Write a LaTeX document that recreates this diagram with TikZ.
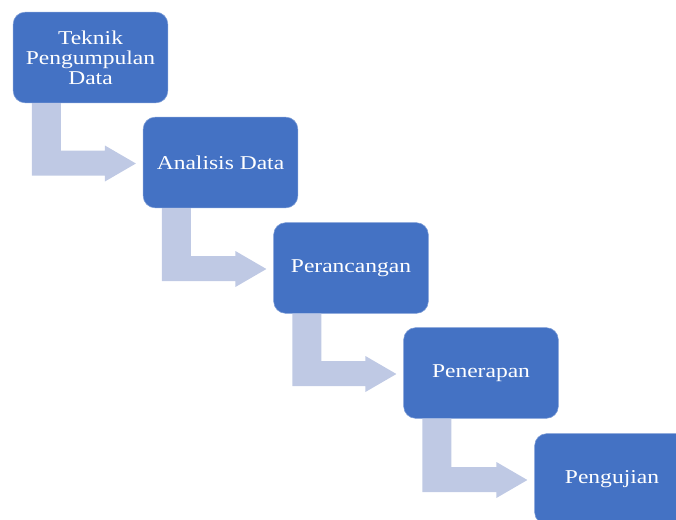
\documentclass[tikz,border=0pt]{standalone}
\usepackage{fontspec}
\setmainfont[FakeStretch=1.2]{Liberation Serif}
\usepackage{tikz}
\usetikzlibrary{calc}
\definecolor{tahapblue}{RGB}{68, 114, 196}
\definecolor{panahblue}{RGB}{191, 201, 228}

\tikzset{
    kotak/.style={fill=tahapblue, draw=tahapblue!70!white, line width=0.4pt, rounded corners=9pt,
        minimum width=116pt, minimum height=68pt, text=white, align=center,
        font=\fontsize{14.7pt}{15pt}\selectfont},
    panah/.style={fill=panahblue}
}

\begin{document}
\begin{tikzpicture}[x=0.75pt, y=-0.75pt]
            \useasboundingbox (0,0) rectangle (676,519);
            \clip (0,0) rectangle (676,519);

            % Teknik Pengumpulan Data
            \node[kotak] (teknik) at (90.5,57.5) {Teknik\\Pengumpulan\\Data};

            % Analisis Data
            \node[kotak] (analisis) at (220.5,162.5) {Analisis Data};

            % Perancangan
            \node[kotak] (perancangan) at (351,268) {Perancangan};

            % Penerapan
            \node[kotak] (penerapan) at (481,373) {Penerapan};

            % Pengujian
            \node[kotak] (pengujian) at (612,479) {Pengujian};

            % Panah
            \fill[panah] ($(teknik.south west)+(19,0)$) |- ($(analisis.west)+(-38,13)$) -- ++(0,6) -- ($(analisis.west)+(-7,1)$) -- ($(analisis.west)+(-38,-17)$) -- ++(0,5) -| ($(teknik.south west)+(48,0)$) -- cycle;
            \fill[panah] ($(analisis.south west)+(19,0)$) |- ($(perancangan.west)+(-38,13)$) -- ++(0,6) -- ($(perancangan.west)+(-7,1)$) -- ($(perancangan.west)+(-38,-17)$) -- ++(0,5) -| ($(analisis.south west)+(48,0)$) -- cycle;
            \fill[panah] ($(perancangan.south west)+(19,0)$) |- ($(penerapan.west)+(-38,13)$) -- ++(0,6) -- ($(penerapan.west)+(-7,1)$) -- ($(penerapan.west)+(-38,-17)$) -- ++(0,5) -| ($(perancangan.south west)+(48,0)$) -- cycle;
            \fill[panah] ($(penerapan.south west)+(19,0)$) |- ($(pengujian.west)+(-38,13)$) -- ++(0,6) -- ($(pengujian.west)+(-7,1)$) -- ($(pengujian.west)+(-38,-17)$) -- ++(0,5) -| ($(penerapan.south west)+(48,0)$) -- cycle;
        \end{tikzpicture}
\end{document}
